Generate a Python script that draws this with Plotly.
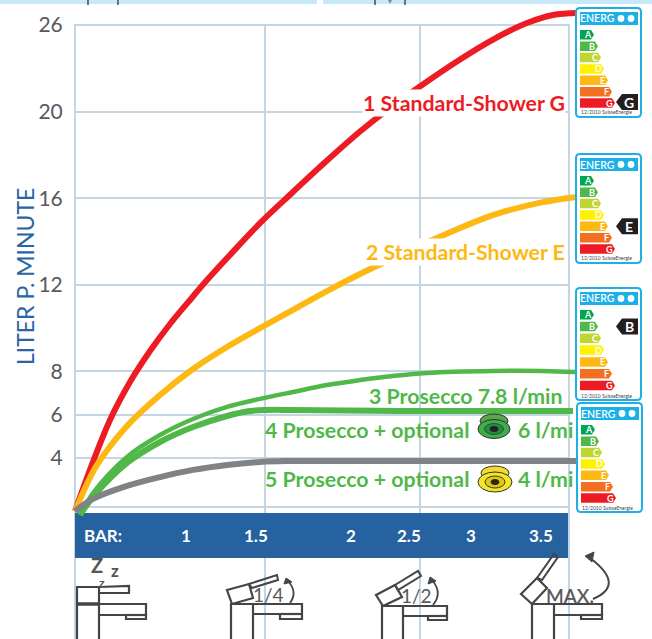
import plotly.graph_objects as go

W, H = 652, 639
L, R, T, B = 70, 579, 9, 639

# Chart data (x = handle travel on the chart's own scale, y = axis position in l/min)
x_red = [0, 18, 35, 55, 75, 95, 115, 132, 155, 185, 218, 252, 285, 312, 342, 385, 418, 452, 478, 502]
y_red = [1.55, 3.82, 5.76, 7.51, 8.94, 10.19, 11.30, 12.22, 13.38, 14.85, 16.29, 17.74, 19.08, 20.07, 21.07, 22.41, 23.33, 24.09, 24.46, 24.55]
x_orange = [0, 12, 22, 52, 85, 118, 152, 185, 218, 252, 285, 308, 355, 418, 468, 502]
y_orange = [1.55, 2.80, 3.68, 5.48, 6.91, 8.11, 9.13, 10.0, 10.84, 11.71, 12.50, 13.01, 14.02, 15.22, 15.82, 16.06]
x_green3 = [5, 18, 52, 85, 118, 152, 185, 218, 252, 285, 318, 352, 418, 468, 501]
y_green3 = [1.37, 2.38, 4.05, 5.06, 5.80, 6.36, 6.73, 7.05, 7.37, 7.60, 7.79, 7.93, 8.02, 8.02, 7.97]
x_green4 = [5, 18, 52, 85, 118, 152, 175, 192, 215, 325, 498]
y_green4 = [1.37, 2.20, 3.77, 4.74, 5.43, 5.94, 6.17, 6.22, 6.22, 6.17, 6.17]
x_gray = [0, 18, 52, 85, 118, 152, 185, 215, 325, 501]
y_gray = [1.55, 2.11, 2.71, 3.12, 3.45, 3.68, 3.82, 3.86, 3.86, 3.86]

y_ticks = [1.74, 4, 6, 8, 12, 16, 20, 24]
y_labels = ["", "4", "6", "8", "12", "16", "20", "26"]
x_grid = [0, 190, 345, 494]
bar_ticks = [28, 111, 181, 276, 334, 396, 466]
bar_labels = ["BAR:", "1", "1.5", "2", "2.5", "3", "3.5"]

X_RANGE = [-5, 504]
Y_RANGE = [-4.36, 24.74]

GRID = "#c4d6e3"
BLUE = "#26629f"
DARK = "#444546"
CYAN = "#1cb0e6"
GREEN = "#50b848"
FONT = "Lato"


# paper coordinates are relative to the plot area
def fx(x):
    return (x - L) / (R - L)


def fy(y):
    return 1 - (y - T) / (B - T)


shapes = []
ann = []


def path(pts, close=True, fill=None, line=DARK, width=2, layer="above"):
    d = "M" + " L".join(f"{fx(a):.5f},{fy(b):.5f}" for a, b in pts) + (" Z" if close else "")
    shapes.append(dict(type="path", path=d, xref="paper", yref="paper", layer=layer,
                       fillcolor=fill or "rgba(0,0,0,0)",
                       line=dict(color=line, width=width)))


def curve(a, c, b, width=1.8):
    d = f"M{fx(a[0]):.5f},{fy(a[1]):.5f} Q{fx(c[0]):.5f},{fy(c[1]):.5f} {fx(b[0]):.5f},{fy(b[1]):.5f}"
    shapes.append(dict(type="path", path=d, xref="paper", yref="paper",
                       line=dict(color=DARK, width=width)))


def rect(x0, y0, x1, y1, fill, line=None, width=0, layer="above"):
    shapes.append(dict(type="rect", xref="paper", yref="paper", layer=layer,
                       x0=fx(x0), x1=fx(x1), y0=fy(y0), y1=fy(y1), fillcolor=fill,
                       line=dict(color=line or fill, width=width)))


def ell(cx, cy, rx, ry, fill, line="#333333", width=1):
    shapes.append(dict(type="circle", xref="paper", yref="paper", layer="above",
                       x0=fx(cx - rx), x1=fx(cx + rx), y0=fy(cy - ry), y1=fy(cy + ry),
                       fillcolor=fill, line=dict(color=line, width=width)))


def text(x, y, s, size, color, anchor="center", bg=None, weight=None, angle=0, family=FONT):
    ann.append(dict(xref="paper", yref="paper", x=fx(x), y=fy(y), text=s, showarrow=False,
                    xanchor=anchor, yanchor="middle", textangle=angle, bgcolor=bg,
                    borderpad=0, font=dict(size=size, color=color, family=family, weight=weight)))


def axis_rect(x0, x1, y0, y1, fill):
    shapes.append(dict(type="rect", xref="x", yref="y", layer="between",
                       x0=x0, x1=x1, y0=y0, y1=y1, fillcolor=fill,
                       line=dict(color=fill, width=0)))


# Energy labels
BAR_COL = ["#00a651", "#50b848", "#bed630", "#fff200", "#fdb813", "#f37021", "#ed1c24"]
BAR_END = [594, 598, 601, 604, 608, 612, 615]
LET = "ABCDEFG"


def energy(x0, top, bottom, tag=None):
    dx = x0 - 576
    rr = 4
    x1 = x0 + 65
    d = (f"M{fx(x0+rr):.5f},{fy(top):.5f} L{fx(x1-rr):.5f},{fy(top):.5f} Q{fx(x1):.5f},{fy(top):.5f} {fx(x1):.5f},{fy(top+rr):.5f} "
         f"L{fx(x1):.5f},{fy(bottom-rr):.5f} Q{fx(x1):.5f},{fy(bottom):.5f} {fx(x1-rr):.5f},{fy(bottom):.5f} "
         f"L{fx(x0+rr):.5f},{fy(bottom):.5f} Q{fx(x0):.5f},{fy(bottom):.5f} {fx(x0):.5f},{fy(bottom-rr):.5f} "
         f"L{fx(x0):.5f},{fy(top+rr):.5f} Q{fx(x0):.5f},{fy(top):.5f} {fx(x0+rr):.5f},{fy(top):.5f} Z")
    shapes.append(dict(type="path", path=d, xref="paper", yref="paper", fillcolor="white",
                       line=dict(color=CYAN, width=2)))
    rect(x0 + 4, top + 4, x0 + 62, top + 17, CYAN)
    text(x0 + 21.5, top + 10.5, "ENERG", 10.5, "white", weight=600)
    ell(x0 + 45, top + 10.5, 3.4, 3.4, "white", "white", 0)
    ell(x0 + 55, top + 10.5, 3.4, 3.4, "white", "white", 0)
    step = (bottom - top - 23) / 7.55
    for i, (c, e) in enumerate(zip(BAR_COL, BAR_END)):
        y0 = top + 22 + i * step
        y1 = y0 + 9.5
        e2 = e + dx
        path([(x0 + 4, y0), (e2 - 3, y0), (e2, (y0 + y1) / 2), (e2 - 3, y1), (x0 + 4, y1)],
             fill=c, line=c, width=0)
        text(e2 - 6, (y0 + y1) / 2, LET[i], 9, "white", weight=700)
    text(x0 + 4, bottom - 4.5, "12/2010 SuisseEnergie", 5, "#444444", anchor="left")
    if tag:
        i = LET.index(tag)
        cy = top + 22 + i * step + 4.75
        if tag == "G":
            cy -= 1
        path([(x0 + 40, cy), (x0 + 46, cy - 8), (x0 + 62, cy - 8), (x0 + 62, cy + 8), (x0 + 46, cy + 8)],
             fill="#231f20", line="#231f20", width=0)
        text(x0 + 53, cy, tag, 14, "white", weight=700)


# Faucets
def faucet(cl, cr, top, right, nozzle, low, bottom_y):
    path([(cl, B + 2), (cl, top), (right, top), (right, bottom_y), (nozzle, bottom_y), (nozzle, low), (cr, low)],
         close=False, width=2.2)
    path([(cr, B + 2), (cr, top)], close=False, width=2.2)
    path([(nozzle, low), (right, low)], close=False, width=2.2)


def arrow_head(tip, a, b):
    path([tip, a, b], fill=DARK, line=DARK, width=1)


# top strip
rect(0, 0, 317, 4, "#c8e9f9")
rect(323, 0, W, 4, "#c8e9f9")
for xx in (88, 118, 375, 405):
    path([(xx, 0), (xx, 5)], close=False, line="#222222", width=1.2)
path([(388, 0), (392, 0), (390, 4)], fill="#888888", line="#888888", width=0)

# masks that stop the gridlines at the chart frame, then the blue band
axis_rect(495.1, X_RANGE[1], Y_RANGE[0], Y_RANGE[1], "white")
axis_rect(X_RANGE[0], -1.1, Y_RANGE[0], Y_RANGE[1], "white")
axis_rect(X_RANGE[0], X_RANGE[1], 24.05, Y_RANGE[1], "white")
axis_rect(0, 493, -0.62, 1.46, BLUE)

energy(576, 8, 117, "G")
energy(576, 154, 263, "E")
energy(576, 288, 400, "B")
energy(577, 403, 512)

# faucet 1
faucet(77, 99, 604, 146, 126, 615, 619)
rect(77, 587, 99, 604, "rgba(0,0,0,0)", DARK, 2.2)
path([(77, 604), (99, 604)], close=False, width=3.5)
path([(99, 587), (129, 586), (129, 593), (99, 593)], close=False, width=2.2)
text(97, 565, "Z", 20, "#555555", weight=700)
text(115, 570, "z", 17, "#555555", weight=700)
text(102, 582, "z", 12, "#555555", weight=700)

# faucet 2
faucet(231, 253, 604, 302, 280, 614, 619)
path([(227, 590), (249, 584), (253, 598), (232, 604)], width=2.2)
path([(249, 584), (277, 575), (278, 580), (252, 588)], width=2)
text(268, 594, "1/4", 19, "#58595b")
curve((290, 603), (298, 592), (288, 581))
arrow_head((286, 578), (292, 582), (284, 584))

# faucet 3
faucet(382, 403, 606, 447, 428, 616, 620)
path([(376, 595), (395, 585), (402, 597), (383, 606)], width=2.2)
path([(395, 585), (418, 571), (421, 576), (398, 590)], width=2)
text(416, 595, "1/2", 19, "#58595b")
curve((433, 605), (443, 593), (432, 580))
arrow_head((430, 577), (436, 581), (428, 584))

# faucet 4
faucet(532, 554, 604, 602, 581, 615, 619)
path([(521, 594), (537, 578), (547, 588), (532, 604)], width=2.2)
path([(537, 578), (554, 554), (558, 557), (542, 580)], width=2)
text(570, 595, "MAX.", 19, "#58595b", weight=600)
curve((593, 599), (626, 585), (590, 558), 2)
arrow_head((585, 556), (594, 552), (592, 562))

# aerators
ell(494, 421, 14, 7, "#58a74c")
ell(494, 429, 16, 9.5, "#3fae4a")
ell(494, 429, 9.5, 5.5, "#2a8a45", "#1d5c33")
ell(494, 429, 4, 2.5, "#222222", "#222222")
ell(495, 473, 14, 7, "#f5d92c")
ell(495, 482, 17, 10, "#f4e52c")
ell(495, 482, 10, 6, "#d9c91f", "#443c10")
ell(495, 482, 4, 2.5, "#33260c", "#33260c")

# curve labels
LBL = 21.3
text(566, 103, "1 Standard-Shower G", LBL, "#ed1c24", anchor="right", bg="white", weight=700)
text(566, 252, "2 Standard-Shower E", LBL, "#fdb813", anchor="right", bg="white", weight=700)
text(563, 396, "3 Prosecco 7.8 l/min", LBL, GREEN, anchor="right", weight=700)
text(470, 430, "4 Prosecco + optional", LBL, GREEN, anchor="right", weight=700)
text(574, 430, "6 l/mi", LBL, GREEN, anchor="right", weight=700)
text(470, 479, "5 Prosecco + optional", LBL, GREEN, anchor="right", weight=700)
text(574, 479, "4 l/mi", LBL, GREEN, anchor="right", weight=700)
text(25, 277, "LITER P. MINUTE", 23, "#2a659f", angle=-90)

# BAR scale inside the band
for bx, bl in zip(bar_ticks, bar_labels):
    ann.append(dict(xref="x", yref="y", x=bx, y=0.42, text=bl, showarrow=False,
                    xanchor="center", yanchor="middle",
                    font=dict(size=17, color="white", family=FONT, weight=700)))

fig = go.Figure()
for name, xs, ys, col, wd in [
    ("1 Standard-Shower G", x_red, y_red, "#ed1c24", 6),
    ("2 Standard-Shower E", x_orange, y_orange, "#fdb813", 6),
    ("3 Prosecco 7.8 l/min", x_green3, y_green3, GREEN, 4.5),
    ("4 Prosecco + optional 6 l/min", x_green4, y_green4, GREEN, 6),
    ("5 Prosecco + optional 4 l/min", x_gray, y_gray, "#808285", 6),
]:
    fig.add_trace(go.Scatter(x=xs, y=ys, name=name, mode="lines",
                             line=dict(color=col, width=wd, shape="spline", smoothing=1),
                             hoverinfo="skip"))

fig.update_layout(
    width=W, height=H, showlegend=False, paper_bgcolor="white", plot_bgcolor="white",
    margin=dict(l=L, r=W - R, t=T, b=H - B, pad=0, autoexpand=False),
    font=dict(family=FONT),
    xaxis=dict(range=X_RANGE, tickvals=x_grid, showticklabels=False, showgrid=True,
               gridcolor=GRID, gridwidth=2, zeroline=False, ticks="", showline=False),
    yaxis=dict(range=Y_RANGE, tickvals=y_ticks, ticktext=y_labels, showgrid=True,
               gridcolor=GRID, gridwidth=1.5, zeroline=False, showline=False,
               ticks="outside", ticklen=2, tickcolor="rgba(0,0,0,0)",
               tickfont=dict(size=21, color="#58595b", family=FONT)),
    shapes=shapes, annotations=ann,
)
fig.write_html("out.html", config=dict(displayModeBar=False),
               post_script="document.body.style.margin='0';")
